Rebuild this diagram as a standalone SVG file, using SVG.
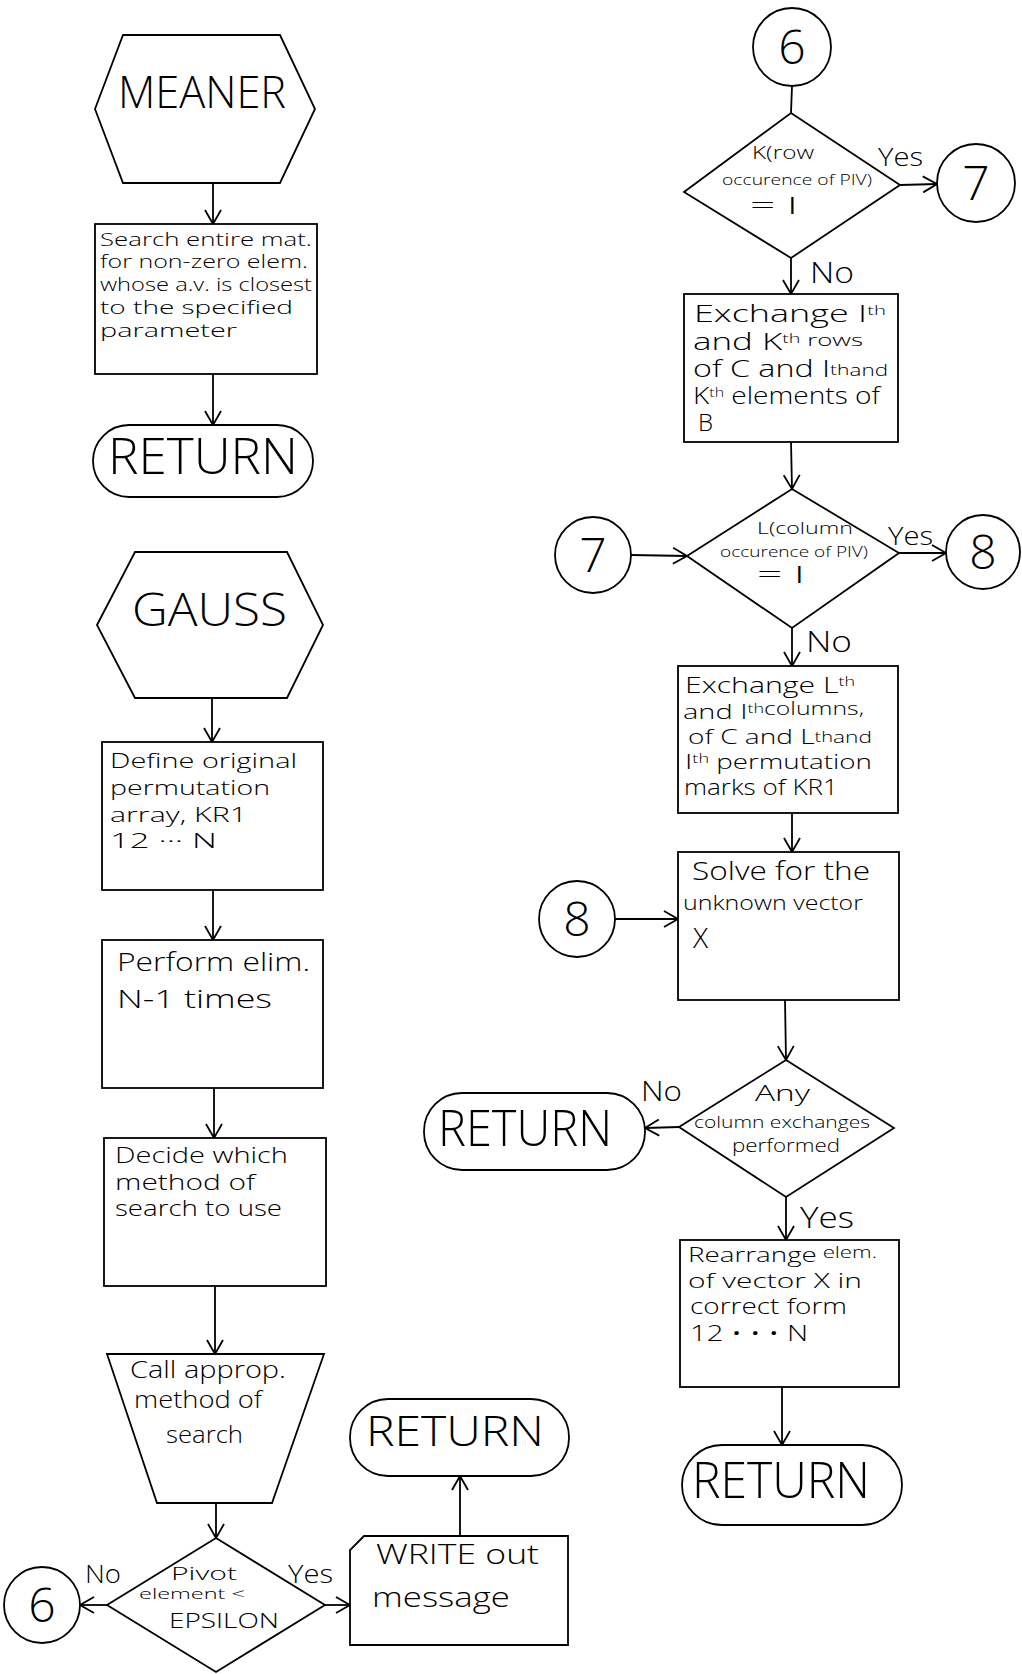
<svg xmlns="http://www.w3.org/2000/svg" width="1022" height="1674" viewBox="0 0 1022 1674">
  <style>
    .shape { fill: #fff; stroke: #000; stroke-width: 1.8; }
    .wire { fill: none; stroke: #000; stroke-width: 1.8; }
    text { font-family: "Open Sans", "Liberation Sans", Arial, sans-serif; font-weight: 300; fill: #000; }
    .body { font-size: 21px; }
    .lbl { font-size: 26px; }
    .num { font-size: 48px; text-anchor: middle; }
    .sup { font-size: 13px; }
  </style>
  <defs>
    <marker id="arrow" markerUnits="userSpaceOnUse" markerWidth="18" markerHeight="18" refX="14" refY="8" orient="auto" overflow="visible">
      <path d="M0,0 L14,8 L0,16" fill="none" stroke="#000" stroke-width="1.8"/>
    </marker>
  </defs>

  <rect width="1022" height="1674" fill="#fff"/>

  <!-- connectors -->
  <g id="connectors" class="wire">
    <line x1="213" y1="183" x2="213" y2="224" marker-end="url(#arrow)"/>
    <line x1="213" y1="374" x2="213" y2="425" marker-end="url(#arrow)"/>
    <line x1="212" y1="698" x2="212" y2="742" marker-end="url(#arrow)"/>
    <line x1="213" y1="890" x2="213" y2="940" marker-end="url(#arrow)"/>
    <line x1="214" y1="1088" x2="214" y2="1138" marker-end="url(#arrow)"/>
    <line x1="215" y1="1286" x2="215" y2="1354" marker-end="url(#arrow)"/>
    <line x1="216" y1="1503" x2="216" y2="1538" marker-end="url(#arrow)"/>
    <line x1="107" y1="1605" x2="80" y2="1605" marker-end="url(#arrow)"/>
    <line x1="325" y1="1605" x2="350" y2="1605" marker-end="url(#arrow)"/>
    <line x1="460" y1="1536" x2="460" y2="1476" marker-end="url(#arrow)"/>

    <line x1="792" y1="86" x2="791" y2="113"/>
    <line x1="900" y1="185" x2="937" y2="184" marker-end="url(#arrow)"/>
    <line x1="791" y1="258" x2="791" y2="294" marker-end="url(#arrow)"/>
    <line x1="791" y1="442" x2="792" y2="489" marker-end="url(#arrow)"/>
    <line x1="631" y1="555" x2="687" y2="556" marker-end="url(#arrow)"/>
    <line x1="899" y1="553" x2="946" y2="553" marker-end="url(#arrow)"/>
    <line x1="792" y1="628" x2="792" y2="666" marker-end="url(#arrow)"/>
    <line x1="792" y1="813" x2="792" y2="852" marker-end="url(#arrow)"/>
    <line x1="615" y1="919" x2="678" y2="919" marker-end="url(#arrow)"/>
    <line x1="785" y1="1000" x2="786" y2="1060" marker-end="url(#arrow)"/>
    <line x1="679" y1="1127" x2="645" y2="1128" marker-end="url(#arrow)"/>
    <line x1="786" y1="1197" x2="786" y2="1240" marker-end="url(#arrow)"/>
    <line x1="782" y1="1387" x2="782" y2="1445" marker-end="url(#arrow)"/>
  </g>

  <!-- MEANER routine -->
  <g id="meaner">
    <polygon class="shape" points="95,109 123,35 280,35 315,109 280,183 123,183"/>
    <text x="118" y="108" font-size="44" textLength="168" lengthAdjust="spacingAndGlyphs">MEANER</text>
  </g>
  <g id="meaner-search">
    <rect class="shape" x="95" y="224" width="222" height="150"/>
    <text font-size="18">
      <tspan x="100" y="246" textLength="212" lengthAdjust="spacingAndGlyphs">Search entire mat.</tspan>
      <tspan x="100" y="268" textLength="208" lengthAdjust="spacingAndGlyphs">for non-zero elem.</tspan>
      <tspan x="100" y="291" textLength="212" lengthAdjust="spacingAndGlyphs">whose a.v. is closest</tspan>
      <tspan x="100" y="314" textLength="193" lengthAdjust="spacingAndGlyphs">to the specified</tspan>
      <tspan x="100" y="337" textLength="137" lengthAdjust="spacingAndGlyphs">parameter</tspan>
    </text>
  </g>
  <g id="meaner-return">
    <rect class="shape" x="93" y="425" width="220" height="72" rx="36"/>
    <text x="108" y="474" font-size="50" textLength="190" lengthAdjust="spacingAndGlyphs">RETURN</text>
  </g>

  <!-- GAUSS routine -->
  <g id="gauss">
    <polygon class="shape" points="97,625 135,552 287,552 323,625 287,698 135,698"/>
    <text x="132" y="626" font-size="46" textLength="155" lengthAdjust="spacingAndGlyphs">GAUSS</text>
  </g>
  <g id="define-perm">
    <rect class="shape" x="102" y="742" width="221" height="148"/>
    <text class="body">
      <tspan x="110" y="768" textLength="187" lengthAdjust="spacingAndGlyphs">Define original</tspan>
      <tspan x="110" y="795" textLength="160" lengthAdjust="spacingAndGlyphs">permutation</tspan>
      <tspan x="110" y="822" textLength="137" lengthAdjust="spacingAndGlyphs">array, KR1</tspan>
      <tspan x="110" y="848" textLength="107" lengthAdjust="spacingAndGlyphs">12 ··· N</tspan>
    </text>
  </g>
  <g id="perform-elim">
    <rect class="shape" x="102" y="940" width="221" height="148"/>
    <text font-size="25">
      <tspan x="117" y="971" textLength="193" lengthAdjust="spacingAndGlyphs">Perform elim.</tspan>
      <tspan x="117" y="1008" textLength="155" lengthAdjust="spacingAndGlyphs">N-1 times</tspan>
    </text>
  </g>
  <g id="decide-search">
    <rect class="shape" x="104" y="1138" width="222" height="148"/>
    <text font-size="22">
      <tspan x="115" y="1163" textLength="173" lengthAdjust="spacingAndGlyphs">Decide which</tspan>
      <tspan x="115" y="1190" textLength="140" lengthAdjust="spacingAndGlyphs">method of</tspan>
      <tspan x="115" y="1216" textLength="167" lengthAdjust="spacingAndGlyphs">search to use</tspan>
    </text>
  </g>
  <g id="call-search">
    <polygon class="shape" points="107,1354 324,1354 272,1503 157,1503"/>
    <text font-size="23">
      <tspan x="130" y="1378" textLength="156" lengthAdjust="spacingAndGlyphs">Call approp.</tspan>
      <tspan x="134" y="1408" textLength="128" lengthAdjust="spacingAndGlyphs">method of</tspan>
      <tspan x="166" y="1443" textLength="77" lengthAdjust="spacingAndGlyphs">search</tspan>
    </text>
  </g>
  <g id="pivot-test">
    <polygon class="shape" points="216,1538 325,1605 216,1672 107,1605"/>
    <text x="171" y="1580" font-size="18" textLength="66" lengthAdjust="spacingAndGlyphs">Pivot</text>
    <text x="139" y="1599" font-size="15" textLength="106" lengthAdjust="spacingAndGlyphs">element &lt;</text>
    <text x="169" y="1628" font-size="21" textLength="110" lengthAdjust="spacingAndGlyphs">EPSILON</text>
    <text class="lbl" x="85" y="1583" textLength="36" lengthAdjust="spacingAndGlyphs">No</text>
    <text class="lbl" x="288" y="1583" textLength="45" lengthAdjust="spacingAndGlyphs">Yes</text>
  </g>
  <g id="goto-6">
    <circle class="shape" cx="42" cy="1605" r="38"/>
    <text class="num" x="42" y="1622">6</text>
  </g>
  <g id="write-message">
    <path class="shape" d="M364,1536 L568,1536 L568,1645 L350,1645 L350,1550 Z"/>
    <text font-size="28">
      <tspan x="376" y="1564" textLength="163" lengthAdjust="spacingAndGlyphs">WRITE out</tspan>
      <tspan x="372" y="1607" textLength="138" lengthAdjust="spacingAndGlyphs">message</tspan>
    </text>
  </g>
  <g id="gauss-return-error">
    <rect class="shape" x="350" y="1399" width="219" height="77" rx="38"/>
    <text x="366" y="1446" font-size="42" textLength="178" lengthAdjust="spacingAndGlyphs">RETURN</text>
  </g>

  <!-- entry 6: row exchange -->
  <g id="entry-6">
    <circle class="shape" cx="792" cy="47" r="39"/>
    <text class="num" x="792" y="64">6</text>
  </g>
  <g id="row-test">
    <polygon class="shape" points="791,113 900,185 791,258 684,192"/>
    <text x="752" y="159" font-size="19" textLength="62" lengthAdjust="spacingAndGlyphs">K(row</text>
    <text x="722" y="185" font-size="15" textLength="150" lengthAdjust="spacingAndGlyphs">occurence of PIV)</text>
    <text x="750" y="214" font-size="23" textLength="48" lengthAdjust="spacingAndGlyphs">= I</text>
    <text class="lbl" x="878" y="166" textLength="45" lengthAdjust="spacingAndGlyphs">Yes</text>
    <text x="810" y="283" font-size="30" textLength="44" lengthAdjust="spacingAndGlyphs">No</text>
  </g>
  <g id="goto-7">
    <circle class="shape" cx="976" cy="183" r="39"/>
    <text class="num" x="976" y="200">7</text>
  </g>
  <g id="row-exchange">
    <rect class="shape" x="684" y="294" width="214" height="148"/>
    <text x="694" y="322" font-size="23" textLength="192" lengthAdjust="spacingAndGlyphs">Exchange I<tspan class="sup" dy="-7">th</tspan></text>
    <text x="693" y="350" font-size="23" textLength="170" lengthAdjust="spacingAndGlyphs">and K<tspan class="sup" dy="-7">th</tspan><tspan font-size="17" dy="3"> rows</tspan></text>
    <text x="693" y="377" font-size="23" textLength="195" lengthAdjust="spacingAndGlyphs">of C and I<tspan font-size="15" dy="-2">th</tspan><tspan font-size="16" dy="1">and</tspan></text>
    <text x="693" y="404" font-size="23" textLength="187" lengthAdjust="spacingAndGlyphs">K<tspan class="sup" dy="-7">th</tspan><tspan dy="7"> elements of</tspan></text>
    <text x="698" y="431" font-size="24">B</text>
  </g>

  <!-- entry 7: column exchange -->
  <g id="entry-7">
    <circle class="shape" cx="593" cy="555" r="38"/>
    <text class="num" x="593" y="572">7</text>
  </g>
  <g id="column-test">
    <polygon class="shape" points="792,489 899,553 792,628 687,556"/>
    <text x="757" y="534" font-size="17" textLength="96" lengthAdjust="spacingAndGlyphs">L(column</text>
    <text x="720" y="557" font-size="15" textLength="148" lengthAdjust="spacingAndGlyphs">occurence of PIV)</text>
    <text x="757" y="583" font-size="23" textLength="48" lengthAdjust="spacingAndGlyphs">= I</text>
    <text class="lbl" x="888" y="545" textLength="45" lengthAdjust="spacingAndGlyphs">Yes</text>
    <text x="806" y="652" font-size="30" textLength="46" lengthAdjust="spacingAndGlyphs">No</text>
  </g>
  <g id="goto-8">
    <circle class="shape" cx="983" cy="552" r="37"/>
    <text class="num" x="983" y="569">8</text>
  </g>
  <g id="column-exchange">
    <rect class="shape" x="678" y="666" width="220" height="147"/>
    <text x="685" y="693" font-size="22" textLength="170" lengthAdjust="spacingAndGlyphs">Exchange L<tspan class="sup" dy="-7">th</tspan></text>
    <text x="683" y="719" font-size="21" textLength="181" lengthAdjust="spacingAndGlyphs">and I<tspan class="sup" dy="-6">th</tspan><tspan font-size="18" dy="2">columns,</tspan></text>
    <text x="688" y="744" font-size="21" textLength="184" lengthAdjust="spacingAndGlyphs">of C and L<tspan font-size="15" dy="-2">th</tspan><tspan font-size="17" dy="1">and</tspan></text>
    <text x="685" y="769" font-size="21" textLength="187" lengthAdjust="spacingAndGlyphs">I<tspan class="sup" dy="-6">th</tspan><tspan font-size="20" dy="6"> permutation</tspan></text>
    <text x="684" y="795" font-size="22" textLength="154" lengthAdjust="spacingAndGlyphs">marks of KR1</text>
  </g>

  <!-- entry 8: back substitution -->
  <g id="entry-8">
    <circle class="shape" cx="577" cy="919" r="38"/>
    <text class="num" x="577" y="936">8</text>
  </g>
  <g id="solve">
    <rect class="shape" x="678" y="852" width="221" height="148"/>
    <text x="692" y="880" font-size="25" textLength="178" lengthAdjust="spacingAndGlyphs">Solve for the</text>
    <text x="683" y="910" font-size="20" textLength="180" lengthAdjust="spacingAndGlyphs">unknown vector</text>
    <text x="693" y="948" font-size="28">X</text>
  </g>
  <g id="exchange-test">
    <polygon class="shape" points="786,1060 894,1128 786,1197 679,1127"/>
    <text x="755" y="1101" font-size="22" textLength="55" lengthAdjust="spacingAndGlyphs">Any</text>
    <text x="694" y="1128" font-size="17" textLength="176" lengthAdjust="spacingAndGlyphs">column exchanges</text>
    <text x="732" y="1152" font-size="19" textLength="108" lengthAdjust="spacingAndGlyphs">performed</text>
    <text x="641" y="1101" font-size="28" textLength="41" lengthAdjust="spacingAndGlyphs">No</text>
    <text x="800" y="1228" font-size="30" textLength="54" lengthAdjust="spacingAndGlyphs">Yes</text>
  </g>
  <g id="solve-return">
    <rect class="shape" x="424" y="1093" width="221" height="77" rx="38"/>
    <text x="438" y="1146" font-size="50" textLength="174" lengthAdjust="spacingAndGlyphs">RETURN</text>
  </g>
  <g id="rearrange">
    <rect class="shape" x="680" y="1240" width="219" height="147"/>
    <text x="688" y="1262" font-size="20" textLength="189" lengthAdjust="spacingAndGlyphs">Rearrange<tspan font-size="16" dy="-4"> elem.</tspan></text>
    <text x="688" y="1288" font-size="21" textLength="174" lengthAdjust="spacingAndGlyphs">of vector X in</text>
    <text x="690" y="1314" font-size="22" textLength="157" lengthAdjust="spacingAndGlyphs">correct form</text>
    <text x="690" y="1341" font-size="22" textLength="118" lengthAdjust="spacingAndGlyphs">12 • • • N</text>
  </g>
  <g id="final-return">
    <rect class="shape" x="682" y="1445" width="220" height="80" rx="40"/>
    <text x="692" y="1498" font-size="50" textLength="178" lengthAdjust="spacingAndGlyphs">RETURN</text>
  </g>
</svg>
